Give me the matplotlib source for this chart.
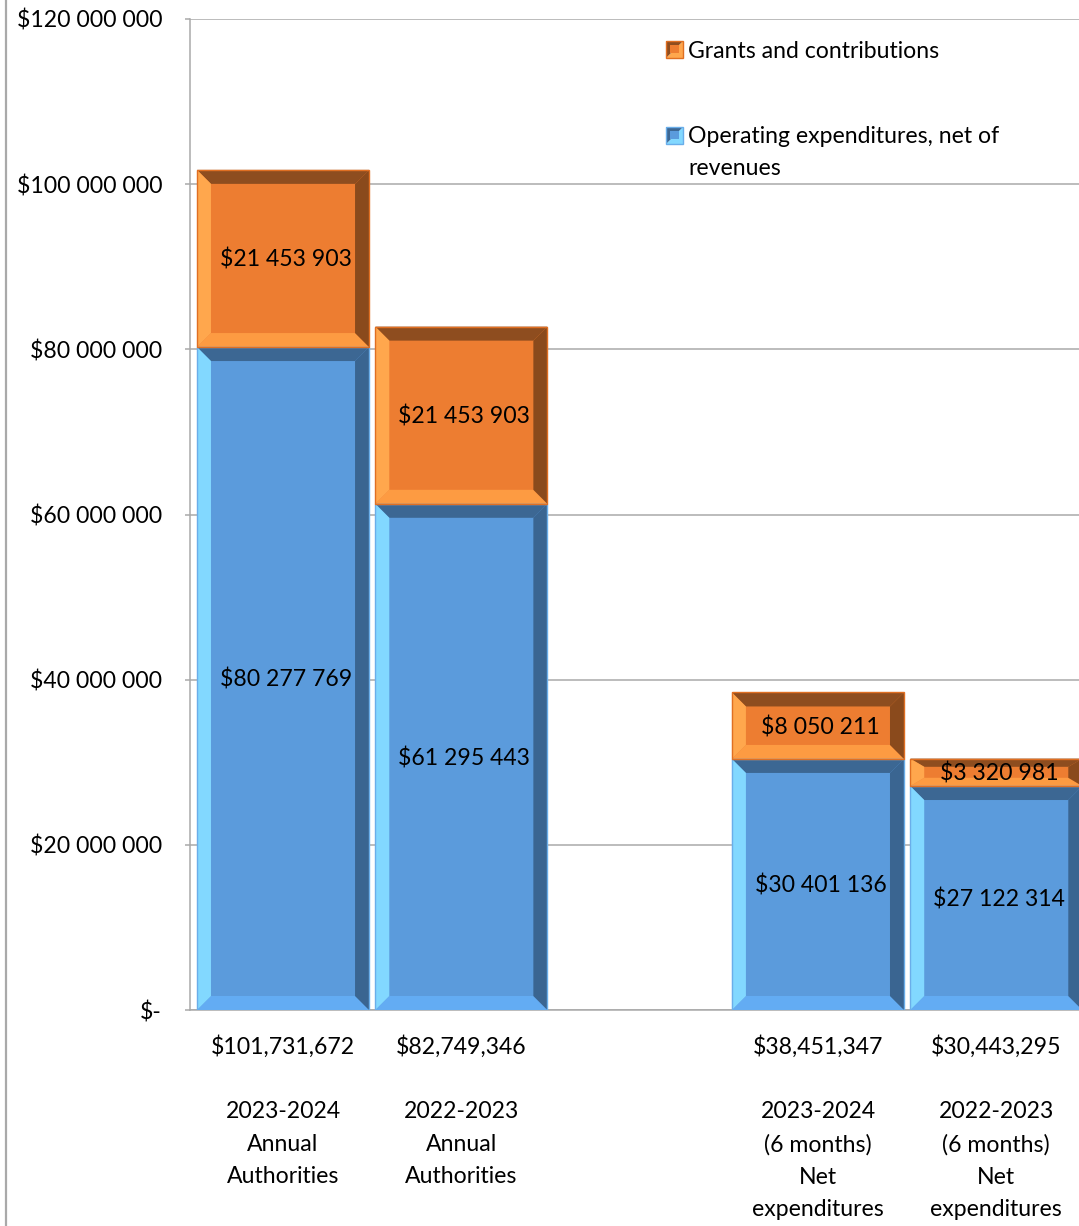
import matplotlib
matplotlib.use("Agg")
import matplotlib.pyplot as plt
from matplotlib.patches import Polygon, Rectangle
from matplotlib.lines import Line2D
from matplotlib.ticker import FuncFormatter, FixedLocator

# ---------------- data ----------------
categories = [
    "2023-2024\nAnnual\nAuthorities",
    "2022-2023\nAnnual\nAuthorities",
    "2023-2024\n(6 months)\nNet\nexpenditures",
    "2022-2023\n(6 months)\nNet\nexpenditures",
]
operating = [80277769, 61295443, 30401136, 27122314]
grants = [21453903, 21453903, 8050211, 3320981]
series_names = ["Operating expenditures, net of\nrevenues", "Grants and contributions"]
y_ticks = [0, 20000000, 40000000, 60000000, 80000000, 100000000, 120000000]

# ---------------- layout / style ----------------
plt.rcParams["font.family"] = ["Lato", "DejaVu Sans"]
FS = 16.6
LS = 1.67
W, H = 1079, 1226
positions = [0, 1, 3, 4]          # slot 2 is left empty, as in the original
bar_w = 0.965
xlim = (-0.5216, 4.464)
ylim = (0, 120000000)

blue = dict(base="#5b9bdc", top="#3c6793", right="#3a6591", left="#82d8ff", bottom="#63acf3", edge="#6aaeea")
orange = dict(base="#ed7d31", top="#8e4d1f", right="#8a4a1c", left="#ffa74d", bottom="#fd9b42", edge="#e06f22")

fig = plt.figure(figsize=(W / 100, H / 100), dpi=100)
fig.patch.set_facecolor("white")
ax_l, ax_b, ax_w, ax_h = 190 / W, 216 / H, 889 / W, 991 / H
ax = fig.add_axes([ax_l, ax_b, ax_w, ax_h])
ax.set_xlim(*xlim)
ax.set_ylim(*ylim)

# pixel -> data conversions for bevel sizes
px_x = (xlim[1] - xlim[0]) / (ax_w * W)
px_y = (ylim[1] - ylim[0]) / (ax_h * H)
BEV = 14


def draw_bevel(bar, c):
    x0, y0 = bar.get_x(), bar.get_y()
    x1, y1 = x0 + bar.get_width(), y0 + bar.get_height()
    bx = BEV * px_x
    by = min(BEV * px_y, 0.3 * (y1 - y0))
    polys = [
        ([(x0, y1), (x1, y1), (x1 - bx, y1 - by), (x0 + bx, y1 - by)], c["top"]),
        ([(x0, y0), (x1, y0), (x1 - bx, y0 + by), (x0 + bx, y0 + by)], c["bottom"]),
        ([(x0, y0), (x0 + bx, y0 + by), (x0 + bx, y1 - by), (x0, y1)], c["left"]),
        ([(x1, y0), (x1, y1), (x1 - bx, y1 - by), (x1 - bx, y0 + by)], c["right"]),
    ]
    for pts, col in polys:
        ax.add_patch(Polygon(pts, closed=True, facecolor=col, edgecolor="none", zorder=3))
    ax.add_patch(Rectangle((x0, y0), x1 - x0, y1 - y0, fill=False,
                           edgecolor=c["edge"], linewidth=1.0, zorder=4))


def money_space(v):
    return "$" + f"{v:,.0f}".replace(",", " ")


bars_op = ax.bar(positions, operating, width=bar_w, color=blue["base"], zorder=2)
bars_gr = ax.bar(positions, grants, width=bar_w, bottom=operating, color=orange["base"], zorder=2)

for bars, vals, col, bottoms in [(bars_op, operating, blue, [0] * 4), (bars_gr, grants, orange, operating)]:
    for b, v, base in zip(bars, vals, bottoms):
        draw_bevel(b, col)
        ax.annotate(money_space(v), xy=(b.get_x() + b.get_width() / 2, base + v / 2),
                    xytext=(2, -1), textcoords="offset points",
                    ha="center", va="center", fontsize=FS, color="black", zorder=5)

# axes styling
ax.yaxis.set_major_locator(FixedLocator(y_ticks))
ax.yaxis.set_major_formatter(FuncFormatter(lambda v, p: "$-" if v == 0 else money_space(v)))
ax.grid(axis="y", color="#a9a9a9", linewidth=1.1, zorder=0)
ax.set_axisbelow(True)
for s in ["top", "right"]:
    ax.spines[s].set_visible(False)
for s in ["left", "bottom"]:
    ax.spines[s].set_color("#a9a9a9")
    ax.spines[s].set_linewidth(1.1)
ax.tick_params(axis="y", direction="out", length=3.6, width=1.1, color="#a9a9a9",
               pad=16.5, labelsize=FS)

totals = [o + g for o, g in zip(operating, grants)]
xlabels = [f"${t:,}\n\n{c}" for t, c in zip(totals, categories)]
ax.set_xticks(positions)
ax.set_xticklabels(xlabels, fontsize=FS, linespacing=LS, va="top")
ax.tick_params(axis="x", length=0, pad=18)

# legend (drawn with patches to mimic the bevelled swatches)
def swatch(xpx, ypx, c):
    s = 17
    fx, fy = xpx / W, 1 - ypx / H
    sw, sh = s / W, s / H
    fig.patches.append(Polygon([(fx, fy - sh / 2), (fx + sw, fy - sh / 2), (fx + sw, fy + sh / 2)],
                               closed=True, transform=fig.transFigure, facecolor=c["left"], edgecolor="none"))
    fig.patches.append(Polygon([(fx, fy - sh / 2), (fx, fy + sh / 2), (fx + sw, fy + sh / 2)],
                               closed=True, transform=fig.transFigure, facecolor=c["top"], edgecolor="none"))
    fig.patches.append(Rectangle((fx + 0.25 * sw, fy - 0.25 * sh), 0.5 * sw, 0.5 * sh,
                                 transform=fig.transFigure, facecolor=c["base"], edgecolor="none"))
    fig.patches.append(Rectangle((fx, fy - sh / 2), sw, sh, transform=fig.transFigure, fill=False,
                                 edgecolor=c["edge"], linewidth=1.0))

swatch(666, 49, orange)
fig.text(688 / W, 1 - 51 / H, series_names[1], fontsize=FS, va="center", ha="left")
swatch(666, 135, blue)
fig.text(688 / W, 1 - 126 / H, series_names[0], fontsize=FS, va="top", ha="left", linespacing=LS)

# chart-area border on the left
fig.add_artist(Line2D([6 / W, 6 / W], [0, 1], transform=fig.transFigure, color="#a9a9a9", linewidth=1.6))

fig.savefig("out.png", dpi=100, facecolor="white")
